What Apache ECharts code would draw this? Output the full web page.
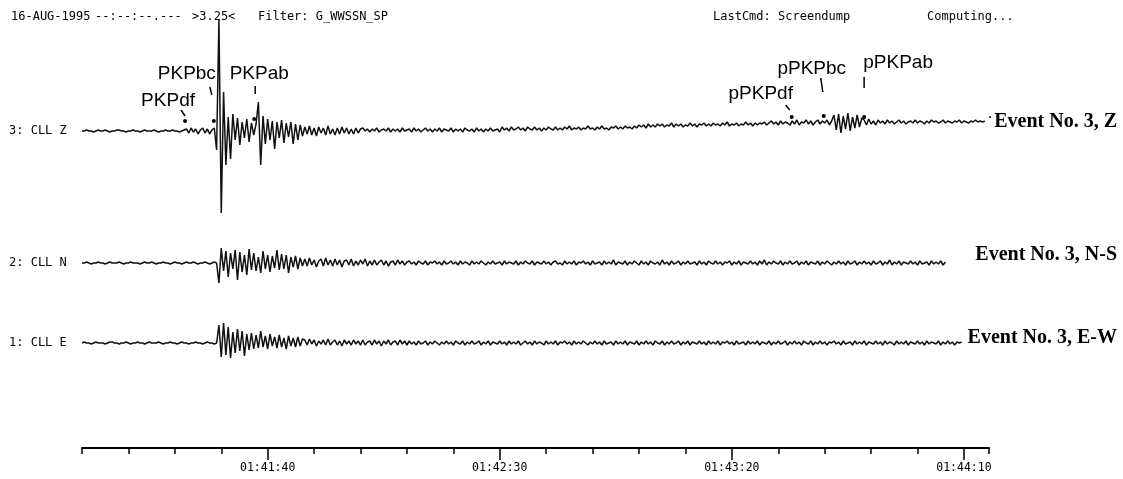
<!DOCTYPE html>
<html><head><meta charset="utf-8">
<script src="https://cdn.jsdelivr.net/npm/echarts@6/dist/echarts.min.js"></script>
<style>html,body{margin:0;padding:0;background:#fff}#c{width:1123px;height:479px}</style>
</head><body><div id="c"></div>
<script>
// time in seconds since 00:00:00 (6060 s = 01:41:00)
const timeStart = 6060;
const timeEnd = 6255.4;
const sampleStep = 0.5;

const traceZ = [
0,0,1,0,0,-1,0,1,0,0,1,0,-1,0,0,1,1,0,0,-1,0,0,1,0,0,-1,0,1,0,0,0,1,0,-1,0,0,1,0,0,1,0,0,-1,0,1,
2,-2,3,-1,2,-3,1,3,-2,2,-3,1,3,
-19,111,-82,39,-34,14,-28,17,-9,13,-14,9,-7,12,-11,8,-4,7,29,-34,15,-13,12,-9,10,-18,9,-7,11,-12,8,-6,9,-13,7,-9,6,-5,
4,-3,5,-4,3,-5,4,-2,3,-4,5,-3,2,-4,3,-3,4,-2,3,-3,2,-3,3,-2,2,
3,0,2,-1,2,0,3,-1,1,2,0,3,-1,2,0,2,-1,3,0,1,
2,-1,3,0,2,-1,1,3,0,2,-1,2,0,3,-1,2,1,0,3,-1,
2,0,2,-1,3,1,0,2,-1,3,0,2,-1,2,0,3,0,1,2,-1,
4,1,3,0,4,1,2,4,1,3,0,4,2,1,4,1,3,0,3,1,
4,2,1,4,1,3,1,4,2,5,1,3,2,4,1,3,2,5,2,3,
1,4,2,5,2,3,1,4,3,5,2,4,2,5,3,4,2,5,3,6,
4,6,3,7,4,6,4,7,5,7,4,6,5,8,4,7,5,7,4,6,
5,8,5,7,4,7,6,8,5,7,5,8,6,7,5,8,6,9,5,7,
6,8,5,7,6,9,6,8,5,8,6,8,7,9,6,
8,10,7,9,6,10,7,9,8,6,10,7,11,6,9,8,11,7,10,6,9,11,7,10,8,11,6,10,
16,1,17,-2,15,2,18,0,14,3,16,4,13,
11,6,12,7,10,6,11,8,10,7,11,8,10,7,9,11,8,10,7,9,
10,8,11,8,10,9,7,10,8,11,9,10,8,9,11,8,10,9,8,10,
9,11,8,10,9,8,10,9,11,9,10,9,10
];

const traceN = [
0,0,1,0,-1,0,0,1,0,0,-1,0,1,0,0,0,1,0,-1,0,
0,1,0,0,0,-1,0,1,0,0,1,0,-1,0,0,1,0,0,-1,0,
1,0,0,-1,0,1,0,0,1,0,-1,0,0,1,0,-1,0,1,0,
-20,15,-8,12,-14,10,-6,13,-17,11,-9,8,-12,14,
-7,10,-8,6,-10,12,-6,8,-9,7,-5,13,-7,9,-6,8,-10,6,-4,7,-6,5,-3,
4,-3,5,-2,3,-4,2,4,-3,5,-2,3,-3,4,-2,3,-4,2,3,-2,
4,-3,2,-2,3,-1,4,-3,2,-2,3,-2,1,3,-2,2,-3,1,2,-2,
3,-1,2,-2,1,
2,-1,1,-2,2,0,-1,2,-2,1,0,2,-1,1,-2,2,-1,0,2,-1,
1,-2,2,-1,1,0,-2,2,-1,1,-1,2,0,-2,1,-1,2,-1,0,1,
-2,2,-1,1,0,-1,2,-2,1,-1,2,0,-1,2,-2,1,0,-1,2,-1,
1,-2,1,2,-1,0,-2,2,-1,1,-1,2,-2,1,0,2,-1,1,-2,2,
-1,0,1,-2,2,-1,1,-1,3,-2,1,0,-1,2,-2,1,-1,2,0,-2,
2,-1,1,-2,2,0,-1,1,-2,3,-1,1,-2,2,-1,0,2,-2,1,-1,
2,-1,0,1,-2,2,-1,1,-2,2,0,-1,2,-1,1,-2,1,0,2,-2,
1,-1,2,-2,1,0,-1,2,-1,1,-2,2,-1,3,-2,1,-1,2,0,-1,
2,-2,1,-1,2,-1,0,2,-2,1,-1,2,-2,1,0,-1,2,-2,1,-1,
2,0,-2,1,-1,2,-1,1,-2,2,-1,0,2,-2,1,-1,2,-1,1,-2,
2,-1,0,2,-2,1,-1,3,-2,1,-1,2,-2,1,0,-1,2,-1,1,-2,
2,-1,0,1,-2,2,-1,1,-1,2,-2,1
];

const traceE = [
0,1,0,0,-1,0,1,0,0,0,-1,0,1,1,0,0,-1,0,0,1,
0,-1,0,0,1,0,0,-1,0,1,0,0,0,1,0,-1,0,0,1,0,
0,-1,0,1,0,0,-1,0,0,1,0,0,-1,0,1,0,0,-1,0,
18,-14,20,-12,16,-15,11,-10,14,-8,12,-13,9,-7,
10,-6,8,-5,12,-4,7,-6,9,-3,6,-5,8,-4,5,-6,7,-3,5,-4,6,-3,4,
3,-2,4,-1,3,-3,2,-1,3,-2,4,-2,1,3,-2,2,-3,3,-1,2,
-2,3,-1,2,-2,3,-2,1,2,-2,3,-1,2,-3,2,-1,3,-2,1,2,
-2,3,-1,2,-2,
2,-1,1,-2,2,-1,0,2,-2,1,-1,2,0,-2,1,-1,2,-1,1,-2,
2,0,-1,2,-2,1,-1,2,-1,0,2,-2,1,-1,2,-2,1,0,-1,2,
-1,1,-2,2,-1,1,-1,2,-2,0,2,-1,1,-2,2,-1,1,0,-2,2,
-1,1,-1,2,-2,1,0,2,-1,1,-2,2,-1,1,-1,2,0,-2,1,-1,
2,-1,1,-2,2,-1,0,1,-2,2,-1,1,-1,2,-2,1,0,-1,2,-2,
1,-1,2,-1,1,-2,2,0,-1,2,-2,1,-1,2,-1,0,2,-2,1,-1,
2,-2,1,0,-1,2,-1,1,-2,2,-1,1,-1,2,-2,1,0,2,-1,1,
-2,2,-1,0,1,-2,2,-1,1,-1,2,-2,1,0,-1,2,-2,1,-1,2,
-1,0,2,-2,1,-1,2,-1,1,-2,2,0,-1,2,-2,1,-1,2,-1,1,
-2,1,0,2,-1,1,-2,2,-1,0,1,-2,2,-1,1,-1,2,-2,1,0,
-1,2,-1,1,-2,2,-1,1,0,-2,2,-1,1,-1,2,-2,1,0,-1,2,
-1,1,-2,2,-1,1,0,-1,2,-2,1,-1,2,-1,1,-2,1,0,1
];

const majorTicks = [6100, 6150, 6200, 6250];
const majorTickLabels = ['01:41:40', '01:42:30', '01:43:20', '01:44:10'];

const phaseNames = ['PKPdf', 'PKPbc', 'PKPab', 'pPKPdf', 'pPKPbc', 'pPKPab'];
const phaseTimes = [6082.2, 6088.4, 6097.1, 6212.9, 6219.8, 6228.5];
const phaseDotLevels = [10, 10, 12, 14, 15, 14];

const traceLabels = ['3: CLL Z', '2: CLL N', '1: CLL E'];
const eventLabels = ['Event No. 3, Z', 'Event No. 3, N-S', 'Event No. 3, E-W'];
const headerTexts = ['16-AUG-1995', '--:--:--.---', '>3.25<', 'Filter: G_WWSSN_SP', 'LastCmd: Screendump', 'Computing...'];

// ---- layout (positions / styles) ----
const phaseLayout = [
  {t: [-4, -11, 0, -5], l: [-17, -20]},
  {t: [-4, -34, -2, -26], l: [-27, -47]},
  {t: [1, -33, 1, -25], l: [5, -45]},
  {t: [-6, -12, -2, -7], l: [-31, -23]},
  {t: [-3, -38, -1, -24], l: [-12, -47]},
  {t: [0, -40, 0, -29], l: [34, -54]}
];
const headerX = [11, 95, 192, 258, 713, 927];
const traceLabelY = [131, 263, 343];
const eventLabelY = [122, 255, 338];
const MONO = '"DejaVu Sans Mono", monospace';

function toPairs(arr) { return arr.map((v, i) => [timeStart + i * sampleStep, v]); }

const chart = echarts.init(document.getElementById('c'), null, {renderer: 'canvas'});

const grids = [
  {left: 82, width: 907, top: 11, height: 240},
  {left: 82, width: 907, top: 223, height: 80},
  {left: 82, width: 907, top: 303, height: 80},
  {left: 82, width: 907, top: 398, height: 50}
];
const hiddenX = i => ({gridIndex: i, type: 'value', min: timeStart, max: timeEnd, show: false});
const lineSeries = (data, i) => ({
  type: 'line', xAxisIndex: i, yAxisIndex: i, data: toPairs(data),
  showSymbol: false, symbol: 'none', clip: false,
  lineStyle: {color: '#111', width: 1.5}, z: 3
});

const graphic = [];
headerTexts.forEach((t, i) => graphic.push({
  type: 'text', left: headerX[i], top: 11,
  style: {text: t, font: '12px ' + MONO, fill: '#000'}
}));
traceLabels.forEach((t, i) => graphic.push({
  type: 'text', x: 9, y: traceLabelY[i],
  style: {text: t, font: '12px ' + MONO, fill: '#000', verticalAlign: 'middle'}
}));
eventLabels.forEach((t, i) => graphic.push({
  type: 'text', x: 1117, y: eventLabelY[i],
  style: {text: t, font: 'bold 20px "Liberation Serif", serif', fill: '#000', align: 'right', verticalAlign: 'middle'}
}));
graphic.push({type: 'circle', shape: {cx: 990, cy: 117, r: 1}, style: {fill: '#000'}});

chart.setOption({
  animation: false,
  backgroundColor: '#fff',
  grid: grids,
  xAxis: [
    hiddenX(0), hiddenX(1), hiddenX(2),
    {
      gridIndex: 3, type: 'value', min: timeStart, max: timeEnd, interval: 10, position: 'bottom',
      axisLine: {show: true, lineStyle: {color: '#000', width: 2}},
      axisTick: {show: true, length: 6, lineStyle: {color: '#000', width: 1.5}},
      axisLabel: {show: false}, splitLine: {show: false}
    },
    {
      gridIndex: 3, type: 'value', min: timeStart, max: timeEnd, position: 'bottom',
      axisLine: {show: false},
      axisTick: {show: true, customValues: majorTicks, length: 12, lineStyle: {color: '#000', width: 1.5}},
      axisLabel: {
        show: true, customValues: majorTicks, margin: 14,
        formatter: v => majorTickLabels[majorTicks.indexOf(v)] || '',
        fontFamily: 'DejaVu Sans Mono', fontSize: 11.5, color: '#000'
      },
      splitLine: {show: false}
    }
  ],
  yAxis: [
    {gridIndex: 0, type: 'value', min: -120, max: 120, show: false},
    {gridIndex: 1, type: 'value', min: -40, max: 40, show: false},
    {gridIndex: 2, type: 'value', min: -40, max: 40, show: false},
    {gridIndex: 3, type: 'value', min: 0, max: 1, show: false}
  ],
  series: [
    lineSeries(traceZ, 0),
    lineSeries(traceN, 1),
    lineSeries(traceE, 2),
    {
      type: 'custom', xAxisIndex: 0, yAxisIndex: 0, clip: false, z: 4,
      data: phaseTimes.map((t, i) => [t, phaseDotLevels[i]]),
      renderItem: function (params, api) {
        const p = api.coord([api.value(0), api.value(1)]);
        const L = phaseLayout[params.dataIndex];
        return {
          type: 'group', children: [
            {type: 'circle', shape: {cx: p[0], cy: p[1], r: 2}, style: {fill: '#000'}},
            {type: 'line', shape: {x1: p[0] + L.t[0], y1: p[1] + L.t[1], x2: p[0] + L.t[2], y2: p[1] + L.t[3]},
              style: {stroke: '#000', lineWidth: 1.5}},
            {type: 'text', x: p[0] + L.l[0], y: p[1] + L.l[1],
              style: {text: phaseNames[params.dataIndex], font: '19px "Liberation Sans", Arial, sans-serif',
                fill: '#000', align: 'center', verticalAlign: 'middle'}}
          ]
        };
      }
    }
  ],
  graphic: graphic
});
</script>
</body></html>
